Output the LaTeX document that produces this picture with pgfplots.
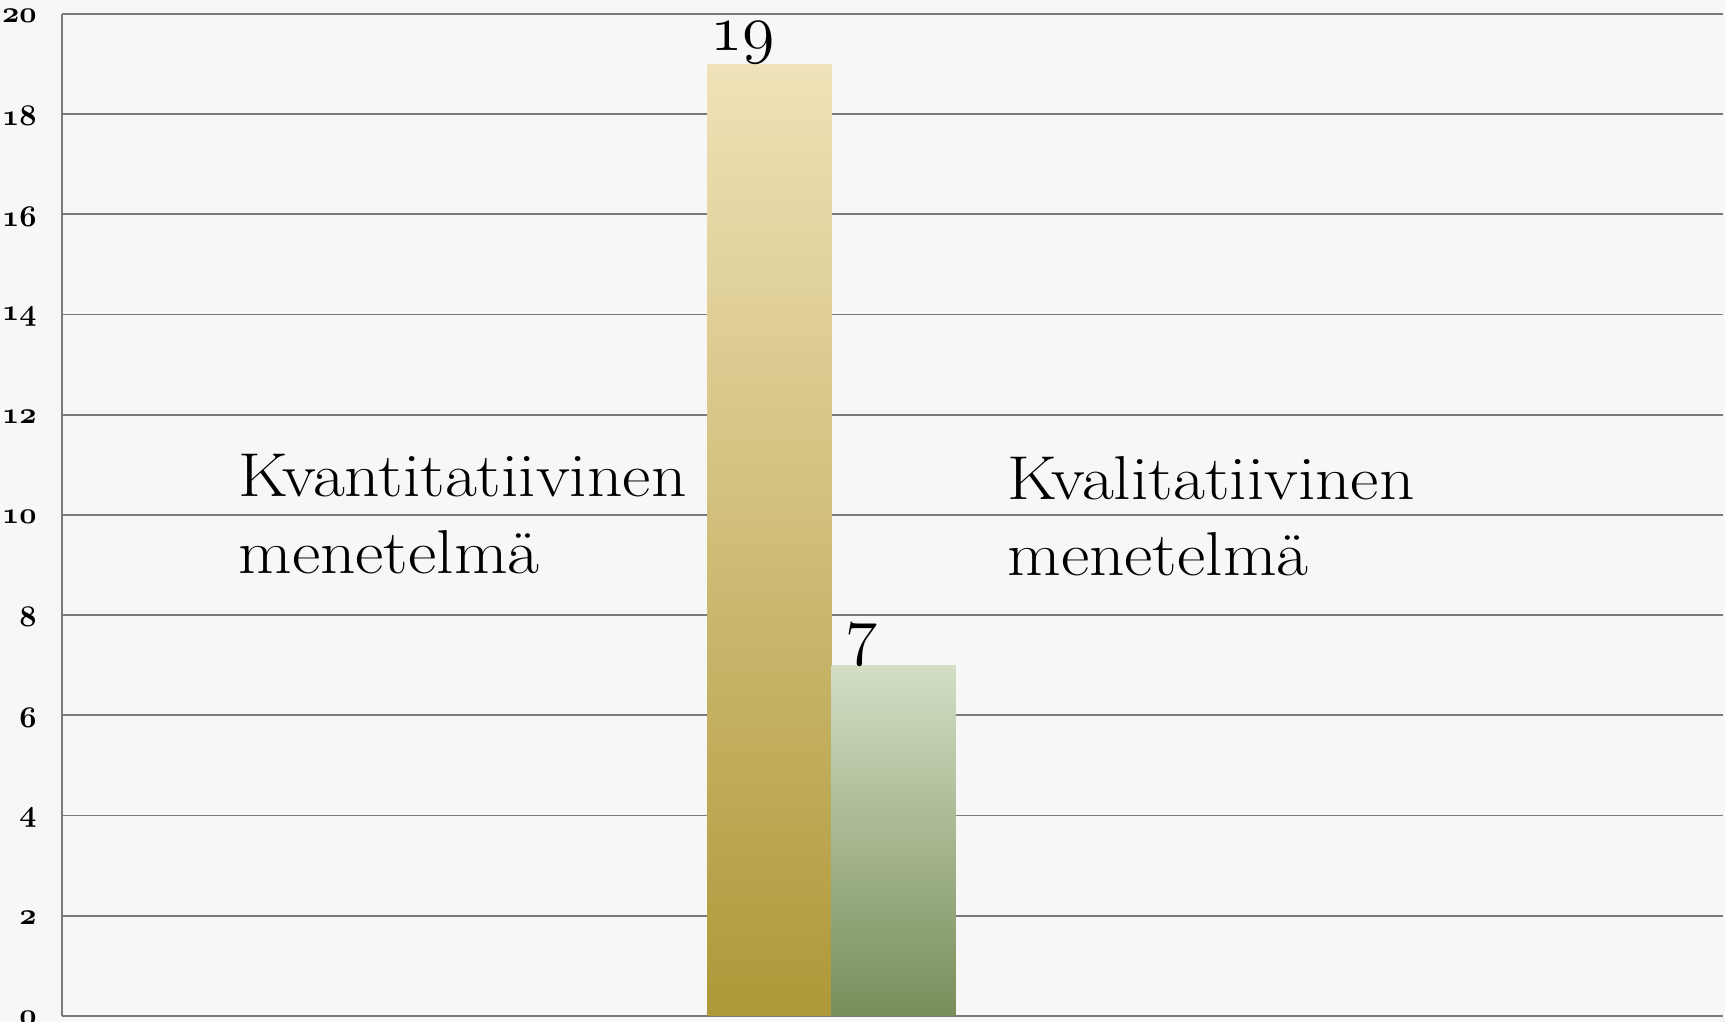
\documentclass[border=0pt]{standalone}
\usepackage{fix-cm}
\usepackage{pgfplots}
\usepackage{graphicx}
\pgfplotsset{compat=1.18}
\definecolor{bg}{HTML}{F7F7F7}
\definecolor{gridc}{HTML}{7A7A7A}
\definecolor{ytop}{HTML}{F0E2B8}
\definecolor{ybot}{HTML}{AF9838}
\definecolor{gtop}{HTML}{D3DEC4}
\definecolor{gbot}{HTML}{788E5A}
\newcommand{\lab}[1]{\scalebox{1.12}[1]{#1}}
\begin{document}
\begin{tikzpicture}
\fill[bg] (0,0) rectangle (862.5pt,511pt);
\begin{axis}[
  at={(31pt,3pt)}, anchor=south west,
  scale only axis, width=830.5pt, height=501pt,
  xmin=0, xmax=1661, ymin=0, ymax=20,
  ytick={0,2,...,20}, xtick=\empty,
  axis x line*=bottom, axis y line*=left,
  axis line style={draw=gridc, line width=0.9pt},
  ymajorgrids, major grid style={draw=gridc, line width=0.9pt},
  major tick length=0pt,
  yticklabel style={anchor=east, inner sep=0pt, xshift=-12.5pt, yshift=-1pt},
  yticklabel={\fontsize{15}{17}\usefont{OML}{cmm}{b}{it}\pgfmathprintnumber[assume math mode=true]{\tick}},
  ybar, bar width=124, bar shift=0pt,
  clip=false,
]
\addplot[draw=none, top color=ytop, bottom color=ybot,
  nodes near coords={\fontsize{33}{39}\usefont{OML}{cmm}{m}{it}19},
  every node near coord/.append style={anchor=south, inner sep=0pt, xshift=-13.25pt}]
  coordinates {(707.5,19)};
\addplot[draw=none, top color=gtop, bottom color=gbot,
  nodes near coords={\fontsize{33}{39}\usefont{OML}{cmm}{m}{it}7},
  every node near coord/.append style={anchor=south, inner sep=0pt, xshift=-15.75pt}]
  coordinates {(831.5,7)};
\node[anchor=base west, inner sep=0pt, font=\fontsize{31}{37}\selectfont] at (axis cs:176,10.364) {\lab{Kvantitatiivinen}};
\node[anchor=base west, inner sep=0pt, font=\fontsize{31}{37}\selectfont] at (axis cs:176,8.828) {\lab{menetelmä}};
\node[anchor=base west, inner sep=0pt, font=\fontsize{31}{37}\selectfont] at (axis cs:945,10.30) {\lab{Kvalitatiivinen}};
\node[anchor=base west, inner sep=0pt, font=\fontsize{31}{37}\selectfont] at (axis cs:945,8.788) {\lab{menetelmä}};
\end{axis}
\pgfresetboundingbox
\path[use as bounding box] (0,0) rectangle (862.5pt,511pt);
\end{tikzpicture}
\end{document}
